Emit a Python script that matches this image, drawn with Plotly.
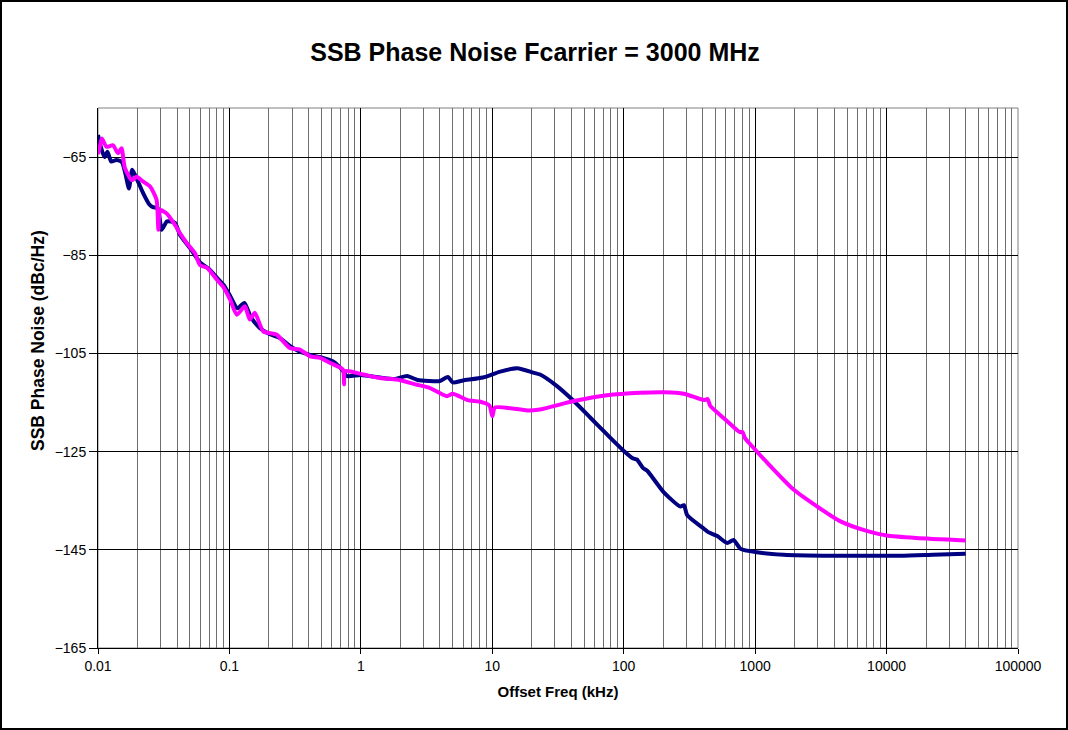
import plotly.graph_objects as go

# ---- data ----
navy_freq = [0.0100, 0.0105, 0.0112, 0.0118, 0.0126, 0.0138, 0.0152, 0.0162, 0.0172, 0.0182,
             0.0200, 0.0221, 0.0245, 0.0262, 0.0285, 0.0305, 0.0335, 0.0385, 0.0420, 0.0500,
             0.0600, 0.0700, 0.0780, 0.0900, 0.1000, 0.1150, 0.1300, 0.1450, 0.1700, 0.2000,
             0.2400, 0.2900, 0.3400, 0.4100, 0.5000, 0.6100, 0.7300, 0.7800, 1.0000, 1.4000,
             1.8000, 2.2500, 2.7000, 3.3000, 4.0000, 4.6000, 5.0000, 6.0000, 8.5000, 11.5,
             15.5, 20.5, 23.1, 30.9, 41.7, 55.8, 74.6, 99.7, 118, 126,
             140, 151, 202, 270, 287, 305, 408, 440, 515, 613,
             685, 774, 1034, 1650, 3850, 12700, 22500, 40000]
navy_dbc = [-60.5, -62.9, -65.0, -63.9, -65.9, -65.6, -66.0, -68.5, -71.4, -67.6,
            -69.8, -72.4, -74.6, -75.2, -75.4, -79.8, -78.1, -78.4, -80.8, -83.5,
            -86.5, -87.8, -89.2, -91.0, -93.0, -95.8, -94.7, -97.5, -99.8, -101.0,
            -101.8, -103.5, -104.6, -105.3, -105.8, -106.6, -108.5, -109.6, -109.4, -109.9,
            -110.2, -109.6, -110.4, -110.6, -110.6, -109.8, -110.9, -110.5, -109.9, -108.7,
            -108.0, -108.9, -109.3, -111.6, -114.7, -118.1, -121.5, -124.8, -126.4, -126.6,
            -128.3, -128.9, -133.3, -136.2, -135.9, -138.0, -140.7, -141.4, -142.2, -143.6,
            -143.0, -144.8, -145.5, -146.0, -146.2, -146.2, -146.0, -145.8]

magenta_freq = [0.0100, 0.0104, 0.0107, 0.0116, 0.0130, 0.0142, 0.0151, 0.0160, 0.0181, 0.0197,
                0.0221, 0.0249, 0.0279, 0.0288, 0.0297, 0.0333, 0.0385, 0.0420, 0.0473, 0.0547,
                0.0597, 0.0680, 0.0804, 0.0900, 0.1010, 0.1140, 0.1310, 0.1430, 0.1560, 0.1810,
                0.2290, 0.2880, 0.3440, 0.4110, 0.4900, 0.5800, 0.7300, 0.7450, 0.7600, 1.0400,
                1.4, 1.88, 2.6, 3.33, 4.5, 5.0, 6.5, 8.0, 9.5, 10.0,
                10.5, 18.5, 23.1, 41.7, 74.6, 133, 202, 287, 408, 435,
                456, 613, 760, 800, 840, 918, 1230, 1940, 2900, 4380,
                6950, 10000, 16800, 40000]
magenta_dbc = [-64.4, -62.5, -61.2, -62.9, -62.6, -64.2, -63.2, -67.2, -69.7, -69.0,
               -70.0, -71.0, -73.7, -79.8, -75.8, -76.5, -78.8, -80.5, -82.5, -84.6,
               -87.0, -87.6, -90.0, -91.5, -94.0, -97.1, -95.4, -98.1, -96.7, -100.5,
               -101.2, -103.9, -104.2, -105.6, -105.9, -106.9, -108.3, -111.3, -108.6, -109.3,
               -110.0, -110.3, -111.3, -112.0, -113.7, -113.2, -114.5, -114.8, -115.6, -117.8,
               -116.0, -116.6, -116.4, -114.7, -113.5, -113.0, -112.9, -113.2, -114.5, -114.3,
               -115.7, -118.8, -121.0, -121.0, -122.3, -123.5, -127.2, -132.6, -136.0, -139.1,
               -141.1, -142.1, -142.6, -143.1]

x_tickvals = [0.01, 0.1, 1, 10, 100, 1000, 10000, 100000]
x_ticktext = ["0.01", "0.1", "1", "10", "100", "1000", "10000", "100000"]
y_tickvals = [-165, -145, -125, -105, -85, -65]

# ---- figure ----
FONT = "Liberation Sans, Arial, sans-serif"
W, H = 1068, 730
L, R, T, B = 98, 50, 108, 82
pw, ph = W - L - R, H - T - B


def px_x(p):
    return (p - L) / pw


def px_y(p):
    return (ph + T - p) / ph


fig = go.Figure()
fig.add_trace(go.Scatter(x=navy_freq, y=navy_dbc, mode="lines",
                         line=dict(color="#000080", width=4, shape="spline", smoothing=0.6),
                         showlegend=False))
fig.add_trace(go.Scatter(x=magenta_freq, y=magenta_dbc, mode="lines",
                         line=dict(color="#FF00FF", width=4, shape="spline", smoothing=0.6),
                         showlegend=False))

# plot-area border (gray) and outer chart border (black)
fig.add_shape(type="rect", xref="paper", yref="paper", x0=0, x1=1, y0=0, y1=1,
              line=dict(color="#808080", width=1), layer="below")
fig.add_shape(type="rect", xref="paper", yref="paper",
              x0=px_x(1), x1=px_x(W - 1), y0=px_y(H - 1), y1=px_y(1),
              line=dict(color="black", width=2), layer="above")

fig.add_annotation(text="<b>SSB Phase Noise (dBc/Hz)</b>", textangle=-90,
                   xref="paper", yref="paper", x=px_x(38), y=px_y(341),
                   xanchor="center", yanchor="middle", showarrow=False,
                   font=dict(size=17.5, family=FONT, color="black"))

fig.update_layout(
    width=W, height=H,
    margin=dict(l=L, r=R, t=T, b=B),
    paper_bgcolor="white", plot_bgcolor="white",
    font=dict(family=FONT, color="black", size=14),
    title=dict(text="<b>SSB Phase Noise Fcarrier = 3000 MHz</b>",
               x=535 / W, xanchor="center", y=1 - 52 / H, yanchor="middle",
               font=dict(size=25, family=FONT, color="black")),
    xaxis=dict(type="log", range=[-2, 5],
               tickvals=x_tickvals, ticktext=x_ticktext,
               showgrid=True, gridcolor="black", gridwidth=1,
               minor=dict(showgrid=True, gridcolor="#6e6e6e", gridwidth=1, dtick="D1"),
               showline=True, linecolor="black", linewidth=1,
               ticks="outside", ticklen=5, tickcolor="black",
               tickfont=dict(size=14, family=FONT),
               title=dict(text="<b>Offset Freq (kHz)</b>", standoff=13,
                          font=dict(size=15, family=FONT)),
               zeroline=False),
    yaxis=dict(range=[-165, -55], tickvals=y_tickvals,
               showgrid=True, gridcolor="black", gridwidth=1,
               showline=True, linecolor="black", linewidth=1,
               ticks="outside", ticklen=8, tickcolor="black",
               tickfont=dict(size=14, family=FONT),
               zeroline=False),
)

fig.write_html("out.html", config={"displayModeBar": False},
               post_script="document.body.style.margin='0';")
